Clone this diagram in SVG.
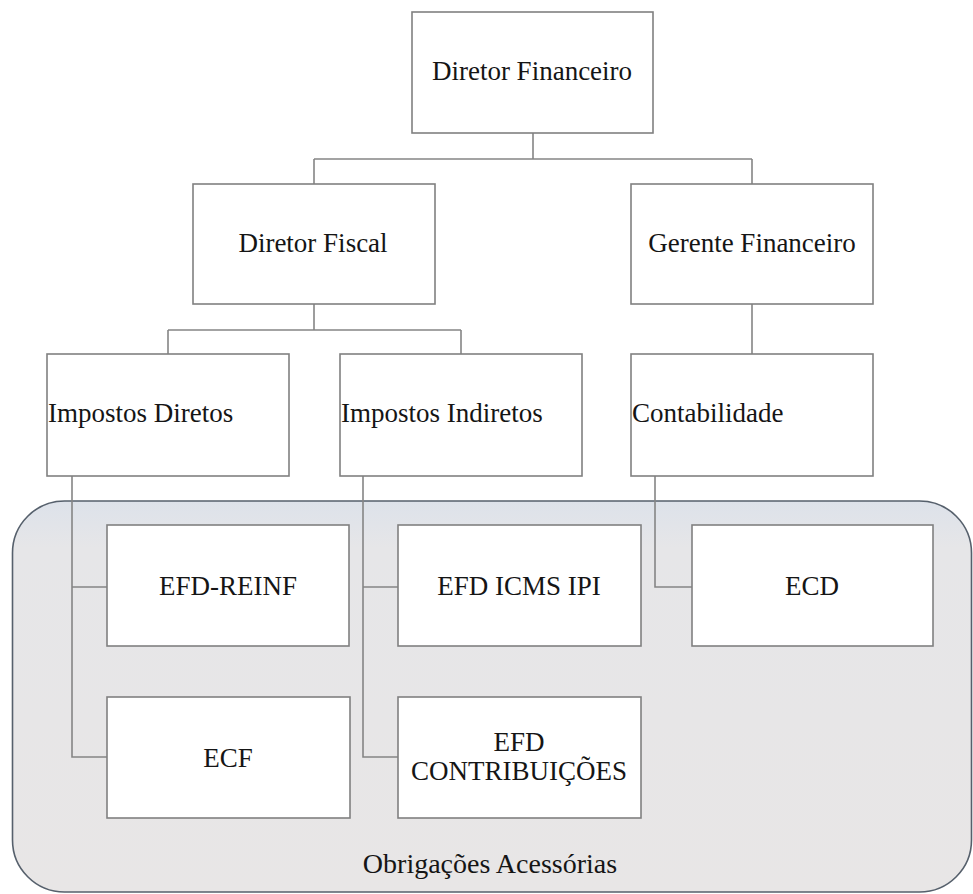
<svg xmlns="http://www.w3.org/2000/svg" width="973" height="894" viewBox="0 0 973 894" font-family="'Liberation Serif', serif">
  <defs>
    <linearGradient id="groupFill" x1="0" y1="0" x2="0" y2="1">
      <stop offset="0" stop-color="#dde2ea"/>
      <stop offset="0.12" stop-color="#e6e6e8"/>
      <stop offset="1" stop-color="#e8e6e6"/>
    </linearGradient>
    <style>
      .box { fill: #ffffff; stroke: #808080; stroke-width: 1.6; }
      text { font-family: 'Liberation Serif', serif; font-size: 27px; fill: #151515; }
      .mid { text-anchor: middle; }
      .conn { fill: none; stroke: #858585; stroke-width: 1.6; }
      .group { fill: url(#groupFill); stroke: #56606c; stroke-width: 1.6; }
      .caption { font-size: 28px; }
    </style>
  </defs>

  <rect width="973" height="894" fill="#ffffff"/>

  <!-- group container for the filing obligations -->
  <g id="obrigacoes-acessorias">
    <rect class="group" x="12.5" y="501" width="959" height="391" rx="52" ry="52"/>
    <text class="mid caption" x="490" y="873">Obrigações Acessórias</text>
  </g>

  <!-- connectors -->
  <g id="connectors">
    <path class="conn" d="M533,133 V159 M314,159 H752 M314,159 V184 M752,159 V184"/>
    <path class="conn" d="M314,304 V330 M168,330 H461 M168,330 V354 M461,330 V354"/>
    <path class="conn" d="M752,304 V354"/>
    <path class="conn" d="M72,476 V757 H107 M72,587 H107"/>
    <path class="conn" d="M363,476 V757 H398 M363,587 H398"/>
    <path class="conn" d="M655,476 V587 H692"/>
  </g>

  <g id="diretor-financeiro">
    <rect class="box" x="412" y="12" width="241" height="121"/>
    <text class="mid" x="532" y="80">Diretor Financeiro</text>
  </g>

  <g id="diretor-fiscal">
    <rect class="box" x="193" y="184" width="242" height="120"/>
    <text class="mid" x="313" y="252">Diretor Fiscal</text>
  </g>

  <g id="gerente-financeiro">
    <rect class="box" x="631" y="184" width="242" height="120"/>
    <text class="mid" x="752" y="252">Gerente Financeiro</text>
  </g>

  <g id="impostos-diretos">
    <rect class="box" x="47" y="354" width="242" height="122"/>
    <text x="48" y="422">Impostos Diretos</text>
  </g>

  <g id="impostos-indiretos">
    <rect class="box" x="340" y="354" width="242" height="122"/>
    <text x="341" y="422">Impostos Indiretos</text>
  </g>

  <g id="contabilidade">
    <rect class="box" x="631" y="354" width="242" height="122"/>
    <text x="632" y="422">Contabilidade</text>
  </g>

  <g id="efd-reinf">
    <rect class="box" x="107" y="525" width="242" height="121"/>
    <text class="mid" x="228" y="595">EFD-REINF</text>
  </g>

  <g id="efd-icms-ipi">
    <rect class="box" x="398" y="525" width="243" height="121"/>
    <text class="mid" x="519" y="595">EFD ICMS IPI</text>
  </g>

  <g id="ecd">
    <rect class="box" x="692" y="525" width="241" height="121"/>
    <text class="mid" x="812" y="595">ECD</text>
  </g>

  <g id="ecf">
    <rect class="box" x="107" y="697" width="243" height="121"/>
    <text class="mid" x="228" y="767">ECF</text>
  </g>

  <g id="efd-contribuicoes">
    <rect class="box" x="398" y="697" width="243" height="121"/>
    <text class="mid" x="519" y="751">EFD</text>
    <text class="mid" x="519" y="780">CONTRIBUIÇÕES</text>
  </g>
</svg>
